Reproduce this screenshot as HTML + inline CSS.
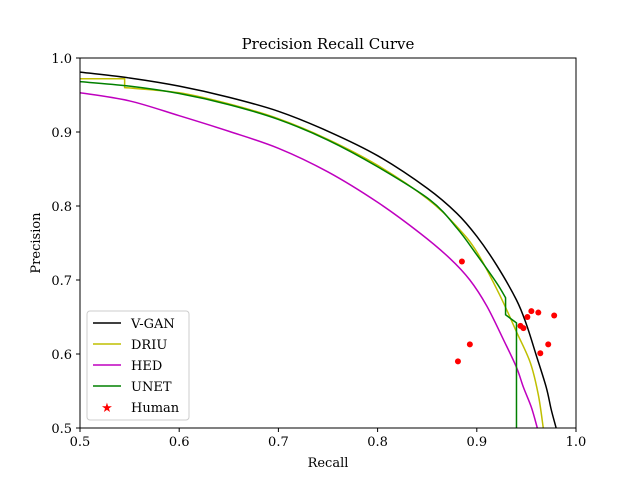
<!DOCTYPE html>
<html><head><meta charset="utf-8"><style>
body{margin:0;background:#fff}
svg{font-family:"DejaVu Serif","Liberation Serif",serif}
</style></head><body>
<svg width="640" height="480" xmlns="http://www.w3.org/2000/svg">
<rect width="640" height="480" fill="#fff"/>
<g id="plot"></g>
<text x="328" y="49" text-anchor="middle" font-size="15">Precision Recall Curve</text>
<text x="328" y="467" text-anchor="middle" font-size="13">Recall</text>
<text x="40" y="243" text-anchor="middle" font-size="13" transform="rotate(-90 40 243)">Precision</text>
</svg>
<script>
const xTicks=[0.5,0.6,0.7,0.8,0.9,1.0];
const yTicks=[0.5,0.6,0.7,0.8,0.9,1.0];
const seriesNames=["V-GAN","DRIU","HED","UNET"];
const seriesColors=["#000000","#bfbf00","#bf00bf","#008000"];
const vganR=[0.5,0.55,0.6,0.65,0.7,0.75,0.8,0.85,0.88,0.9,0.92,0.94,0.95,0.96,0.97,0.975,0.98];
const vganP=[0.981,0.973,0.962,0.947,0.928,0.901,0.868,0.824,0.790,0.759,0.720,0.673,0.640,0.598,0.555,0.525,0.5];
const driuR=[0.5,0.545,0.545,0.6,0.65,0.7,0.75,0.8,0.85,0.88,0.9,0.923,0.94,0.954,0.962,0.967];
const driuP=[0.972,0.972,0.960,0.953,0.938,0.918,0.890,0.855,0.810,0.772,0.738,0.680,0.630,0.588,0.545,0.5];
const hedR=[0.5,0.55,0.6,0.65,0.7,0.75,0.8,0.843,0.873,0.893,0.91,0.927,0.94,0.947,0.955,0.961];
const hedP=[0.953,0.942,0.922,0.901,0.878,0.846,0.805,0.763,0.729,0.700,0.665,0.619,0.582,0.555,0.528,0.5];
const unetR=[0.5,0.55,0.6,0.65,0.7,0.75,0.8,0.853,0.88,0.9,0.92,0.929,0.929,0.94,0.94];
const unetP=[0.968,0.962,0.952,0.937,0.917,0.889,0.853,0.808,0.770,0.734,0.696,0.676,0.653,0.642,0.5];
const humanR=[0.885,0.893,0.881,0.955,0.962,0.978,0.951,0.944,0.947,0.972,0.964];
const humanP=[0.725,0.613,0.590,0.658,0.656,0.652,0.650,0.638,0.635,0.613,0.601];
const X0=80,X1=576,Y0=428,Y1=58;
const sx=v=>X0+(v-0.5)/0.5*(X1-X0);
const sy=v=>Y0-(v-0.5)/0.5*(Y0-Y1);
const NS="http://www.w3.org/2000/svg";
const g=document.getElementById('plot');
function mk(t,a){const e=document.createElementNS(NS,t);for(const k in a)e.setAttribute(k,a[k]);g.appendChild(e);return e;}
const clip=mk('clipPath',{id:'c'});
const cr=document.createElementNS(NS,'rect');cr.setAttribute('x',X0);cr.setAttribute('y',Y1);cr.setAttribute('width',X1-X0);cr.setAttribute('height',Y0-Y1);clip.appendChild(cr);
function smoothPath(P){
  let d='M'+P[0][0]+','+P[0][1];
  const deg=(a,b)=>!a||!b||a[0]===b[0]||a[1]===b[1];
  for(let i=0;i<P.length-1;i++){
    const p0=P[i-1],p1=P[i],p2=P[i+1],p3=P[i+2];
    if(deg(p1,p2)){d+=' L'+p2[0]+','+p2[1];continue;}
    const a=deg(p0,p1)?p1:p0, b=deg(p2,p3)?p2:p3;
    const c1=[p1[0]+(p2[0]-a[0])/6,p1[1]+(p2[1]-a[1])/6];
    const c2=[p2[0]-(b[0]-p1[0])/6,p2[1]-(b[1]-p1[1])/6];
    d+=' C'+c1+' '+c2+' '+p2[0]+','+p2[1];
  }
  return d;
}
const data=[[vganR,vganP],[driuR,driuP],[hedR,hedP],[unetR,unetP]];
data.forEach((d,i)=>{
  const P=d[0].map((r,j)=>[sx(r),sy(d[1][j])]);
  const el=mk('path',{d:smoothPath(P),fill:'none',stroke:seriesColors[i],'stroke-width':1.5,'clip-path':'url(#c)'});
  
  
});
humanR.forEach((r,j)=>{
  const el=mk('circle',{cx:sx(r),cy:sy(humanP[j]),r:3,fill:'#ff0000'});
  
  
});
const fr=mk('rect',{x:X0,y:Y1,width:X1-X0,height:Y0-Y1,fill:'none',stroke:'#000','stroke-width':1});


xTicks.forEach(v=>{
  mk('line',{x1:sx(v),x2:sx(v),y1:Y0,y2:Y0+4,stroke:'#000'});
  const t=mk('text',{x:sx(v),y:Y0+18,'text-anchor':'middle','font-size':13});
  t.textContent=v.toFixed(1);
  
  
});
yTicks.forEach(v=>{
  mk('line',{x1:X0-4,x2:X0,y1:sy(v),y2:sy(v),stroke:'#000'});
  const t=mk('text',{x:X0-8,y:sy(v)+5,'text-anchor':'end','font-size':13});
  t.textContent=v.toFixed(1);
  
  
});
const lg=mk('rect',{x:87,y:311,width:102,height:109,rx:3,fill:'#fff','fill-opacity':0.8,stroke:'#ccc'});


const labels=seriesNames.concat(["Human"]);
labels.forEach((n,i)=>{
  const y=323+i*21;
  if(i<4){mk('line',{x1:93,x2:121,y1:y,y2:y,stroke:seriesColors[i],'stroke-width':1.5});}
  else{const s=mk('text',{x:107,y:y+5,'text-anchor':'middle','font-size':13,fill:'#ff0000'});s.textContent='★';}
  const t=mk('text',{x:131,y:y+5,'font-size':13});
  t.textContent=n;
  
  
});
</script>
</body></html>
